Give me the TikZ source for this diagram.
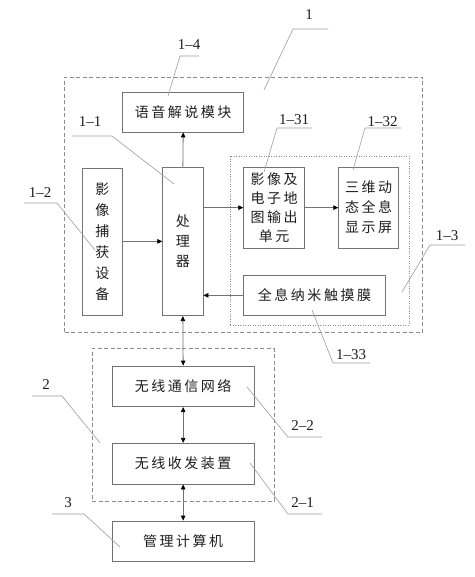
\documentclass[tikz,border=0pt]{standalone}
\usepackage{fontspec}
\setmainfont{Liberation Serif}
\newfontfamily\cjk[LetterSpace=18]{Noto Sans CJK SC}
\usetikzlibrary{arrows.meta}
\definecolor{boxc}{gray}{0.45}
\definecolor{leadc}{gray}{0.62}
\definecolor{dashc}{gray}{0.55}
\definecolor{txtc}{gray}{0.12}
\begin{document}
\begin{tikzpicture}[x=1pt,y=-1pt,
  box/.style={draw=boxc, line width=0.8pt, inner sep=0pt, align=center, text=txtc,
    font=\cjk\fontsize{14}{20}\selectfont},
  grp/.style={draw=dashc, line width=0.7pt, dash pattern=on 4pt off 2.5pt, inner sep=0pt},
  dotgrp/.style={draw=dashc, line width=0.8pt, dash pattern=on 1pt off 1.5pt, inner sep=0pt},
  lab/.style={font=\fontsize{15}{18}\selectfont, text=txtc, inner sep=0pt},
  leader/.style={draw=leadc, line width=0.6pt},
  arr/.style={draw=boxc, line width=0.8pt, -{Triangle[length=5pt,width=4.5pt,color=black]}},
  darr/.style={draw=boxc, line width=0.8pt, {Triangle[length=5pt,width=4.5pt,color=black]}-{Triangle[length=5pt,width=4.5pt,color=black]}}
]
\useasboundingbox[fill=white] (0,0) rectangle (474,577);

% group frames
\node[grp, minimum width=358pt, minimum height=255pt] (g1) at (243.5,204.5) {};
\node[dotgrp, minimum width=179pt, minimum height=169.3pt] (g13) at (319.5,240.65) {};
\node[grp, minimum width=182pt, minimum height=152.7pt] (g2) at (183,424.65) {};

% boxes
\node[box, minimum width=121pt, minimum height=40pt] (n14) at (183.2,112) {语音解说模块};
\node[box, minimum width=40.3pt, minimum height=148.7pt] (n11) at (182.85,241.35) {处\\理\\器};
\node[box, minimum width=40.7pt, minimum height=147pt, font=\cjk\fontsize{14}{21}\selectfont] (n12) at (102.35,241.5) {影\\像\\捕\\获\\设\\备};
\node[box, minimum width=61pt, minimum height=81.3pt, font=\cjk\fontsize{14}{19}\selectfont] (n131) at (274.2,207.65) {影像及\\电子地\\图输出\\单元};
\node[box, minimum width=60pt, minimum height=81.3pt] (n132) at (368.7,207.65) {三维动\\态全息\\显示屏};
\node[box, minimum width=141.6pt, minimum height=39.3pt] (n133) at (314.5,295.35) {全息纳米触摸膜};
\node[box, minimum width=141.7pt, minimum height=40.7pt] (n22) at (183.15,386.35) {无线通信网络};
\node[box, minimum width=141.7pt, minimum height=40.7pt] (n21) at (183.15,463.65) {无线收发装置};
\node[box, minimum width=141.7pt, minimum height=40pt] (n3) at (183.15,541) {管理计算机};

% connectors
\draw[arr] (n11.north) -- (n14.south);
\draw[arr] (n12.east |- n11.west) -- (n11.west);
\draw[arr] (n11.east |- n131.west) -- (n131.west);
\draw[arr] (n131.east) -- (n132.west);
\draw[arr] (n133.west) -- (n11.east |- n133.west);
\draw[darr] (n11.south) -- (n22.north);
\draw[darr] (n22.south) -- (n21.north);
\draw[darr] (n21.south) -- (n3.north);

% labels
\node[lab] (t1) at (309,15) {1};
\node[lab] (t14) at (189,45) {1--4};
\node[lab] (t11) at (90,122) {1--1};
\node[lab] (t131) at (294,120) {1--31};
\node[lab] (t132) at (382.5,122) {1--32};
\node[lab] (t12) at (40,193) {1--2};
\node[lab] (t13) at (447,236) {1--3};
\node[lab] (t133) at (351,355) {1--33};
\node[lab] (t2) at (46,385) {2};
\node[lab] (t22) at (302.5,426) {2--2};
\node[lab] (t21) at (302.5,503) {2--1};
\node[lab] (t3) at (68,503) {3};

% leader lines
\coordinate (a1) at (328,29);   \coordinate (b1) at (293,29);   \coordinate (c1) at (264,90);
\coordinate (a14) at (199,56);  \coordinate (b14) at (180,56);  \coordinate (c14) at (168,96);
\coordinate (a11) at (72,136);  \coordinate (b11) at (112,136); \coordinate (c11) at (174,184);
\coordinate (a131) at (312,128); \coordinate (b131) at (277,128); \coordinate (c131) at (264,172);
\coordinate (a132) at (401,128); \coordinate (b132) at (365,128); \coordinate (c132) at (353,170);
\coordinate (a12) at (24,203);  \coordinate (b12) at (57,203);  \coordinate (c12) at (95,250);
\coordinate (a13) at (465,245); \coordinate (b13) at (430,245); \coordinate (c13) at (402,292);
\coordinate (a133) at (370,363); \coordinate (b133) at (333,363); \coordinate (c133) at (312,310);
\coordinate (a2) at (32,396);   \coordinate (b2) at (62,396);   \coordinate (c2) at (100,443);
\coordinate (a22) at (322,437); \coordinate (b22) at (288,437); \coordinate (c22) at (247,387);
\coordinate (a21) at (322,514); \coordinate (b21) at (288,514); \coordinate (c21) at (250,463);
\coordinate (a3) at (52,514);   \coordinate (b3) at (84,514);   \coordinate (c3) at (120,547);
\foreach \k in {1,14,11,131,132,12,13,133,2,22,21,3}
  \draw[leader] (a\k) -- (b\k) -- (c\k);
\end{tikzpicture}
\end{document}
